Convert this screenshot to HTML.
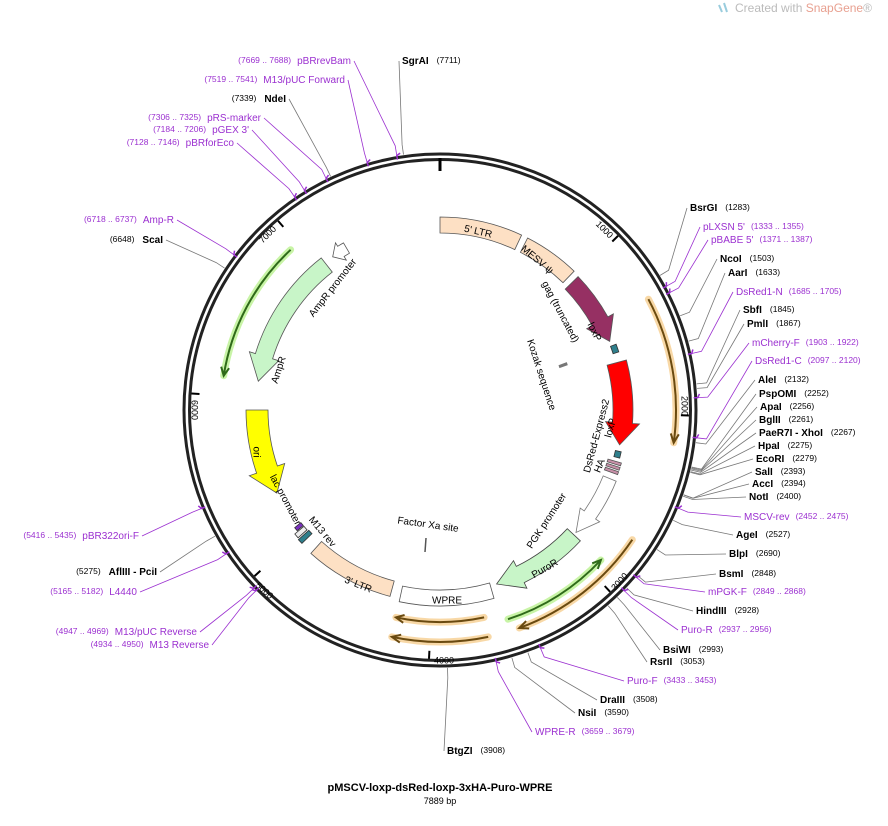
<!DOCTYPE html>
<html><head><meta charset="utf-8"><style>
body{margin:0;background:#fff;}
svg{display:block;font-family:"Liberation Sans","DejaVu Sans",sans-serif;}
</style></head><body>
<svg id="s" width="888" height="826" viewBox="0 0 888 826" xmlns="http://www.w3.org/2000/svg">
<text x="735" y="12" font-size="12" fill="#bbb">Created with <tspan fill="#e8a090">SnapGene</tspan>®</text>
<path d="M719 5 l3 7 M724 3 l3 9" stroke="#9cd" stroke-width="2"/>
<g id="g"></g>
<text x="440" y="791" font-size="11" font-weight="bold" text-anchor="middle">pMSCV-loxp-dsRed-loxp-3xHA-Puro-WPRE</text>
<text x="440" y="804" font-size="9" text-anchor="middle">7889 bp</text>
</svg>
<script>
const CX=440,CY=410,N=7889;
const g=document.getElementById('g');
let html='';
const rad=a=>a*Math.PI/180;
const P=(a,r)=>[CX+r*Math.sin(rad(a)),CY-r*Math.cos(rad(a))];
const f=v=>v.toFixed(1);
const bpA=b=>b/N*360;
function arc(a1,a2,r){const[x,y]=P(a2,r);const sw=a2>a1?1:0;const lg=Math.abs(a2-a1)>180?1:0;return `A${f(r)} ${f(r)} 0 ${lg} ${sw} ${f(x)} ${f(y)}`;}
function band(s,e,r,w,fill,stroke,head){
  const ro=r+w/2,ri=r-w/2;let d;
  const [x0,y0]=P(s,ro);
  if(!head){const[x1,y1]=P(e,ri);d=`M${f(x0)} ${f(y0)} ${arc(s,e,ro)} L${f(x1)} ${f(y1)} ${arc(e,s,ri)} Z`;}
  else{const sg=Math.sign(e-s);const hs=e-sg*head;const hw=w*0.35;
    const[a,b]=P(hs,ro+hw),[c,dd]=P(e,r),[p,q]=P(hs,ri-hw),[m,n]=P(hs,ri);
    d=`M${f(x0)} ${f(y0)} ${arc(s,hs,ro)} L${f(a)} ${f(b)} L${f(c)} ${f(dd)} L${f(p)} ${f(q)} L${f(m)} ${f(n)} ${arc(hs,s,ri)} Z`;}
  html+=`<path d="${d}" fill="${fill}" stroke="${stroke}" stroke-width="0.8"/>`;
}
function primer(s,e,r,col,glow){
  const[x0,y0]=P(s,r);const sg=Math.sign(e-s);
  const d=`M${f(x0)} ${f(y0)} ${arc(s,e,r)}`;
  html+=`<path d="${d}" fill="none" stroke="${glow}" stroke-width="7" stroke-linecap="round" opacity="0.7"/>`;
  html+=`<path d="${d}" fill="none" stroke="${col}" stroke-width="2"/>`;
  const[tx,ty]=P(e,r),[a,b]=P(e-sg*2.2,r+4),[c,dd]=P(e-sg*2.2,r-4);
  html+=`<path d="M${f(a)} ${f(b)} L${f(tx)} ${f(ty)} L${f(c)} ${f(dd)}" fill="none" stroke="${col}" stroke-width="2"/>`;
}
function T(x,y,t,rot,size,anchor,fill){html+=`<text x="${x}" y="${y}" font-size="${size||10}" text-anchor="${anchor||'middle'}" fill="${fill||'#000'}" transform="rotate(${rot||0} ${x} ${y})" dominant-baseline="middle">${t}</text>`;}
html+=`<circle cx="${CX}" cy="${CY}" r="256" fill="none" stroke="#222" stroke-width="3"/>`;
html+=`<circle cx="${CX}" cy="${CY}" r="250.5" fill="none" stroke="#222" stroke-width="3"/>`;
html+=`<line x1="440" y1="158" x2="440" y2="171" stroke="#000" stroke-width="3"/>`;
[1000,2000,3000,4000,5000,6000,7000].forEach(b=>{
  const a=bpA(b);const[x1,y1]=P(a,249),[x2,y2]=P(a,241);
  html+=`<line x1="${f(x1)}" y1="${f(y1)}" x2="${f(x2)}" y2="${f(y2)}" stroke="#000" stroke-width="2"/>`;
});
T(604,230,"1000",45,9);T(684,406,"2000",90,9);T(620,582,"3000",-48,9);T(444,661,"4000",0,9);T(264,591,"5000",42,9);T(194,410,"6000",90,9);T(268,235,"7000",-45,9);
band(0,25,185,16,"#fde0c4","#555",0);
band(27,44,185,16,"#fde0c4","#555",0);
band(46,68,183,18,"#963063","#555",7);
band(69.5,72,185,6,"#2f7f8c","#333",0);
band(75,101,183,20,"#ff0000","#555",7);
band(103,105,183,6,"#2f7f8c","#333",0);
for(let i=0;i<3;i++)band(106.3+i*1.4,107.2+i*1.4,182,14,"#c890a8","#555",0);
band(112,132,183,14,"#fff","#777",7);
band(133,162,183,18,"#c8f5c8","#444",8);
band(164,192,188,16,"#fff","#555",0);
band(195,222,185,16,"#fde0c4","#555",0);
band(226,227.5,185,14,"#2f7f8c","#333",0);
band(228,229.5,185,12,"#eee","#333",0);
band(229.8,231,183,8,"#7a30c0","#333",0);
band(270,243,183,22,"#ffff00","#555",8);
band(322,279,184,18,"#c8f5c8","#555",8);
band(330,325,187,12,"#fff","#555",3);
band(69.5,70.5,131,8,"#777","#777",0);
primer(317,279,219,"#2f6a1a","#b0f080");
primer(162,133,220,"#2f6a1a","#b0f080");
primer(62,98,236,"#6a4a10","#f5c880");
primer(124,160,232,"#6a4a10","#f5c880");
primer(168,192,212,"#6a4a10","#f5c880");
primer(168,192,232,"#6a4a10","#f5c880");
T(478,232,"5' LTR",13,10);T(537,260,"MESV ψ",40,10);T(560,312,"gag (truncated)",62,10);
T(594,332,"loxP",64,10);T(541,375,"Kozak sequence",72,10);T(597,436,"DsRed-Express2",-75,10);
T(611,428,"loxP",-75,10);T(600,466,"HA",-68,10);T(547,521,"PGK promoter",-57,10);
T(545,569,"PuroR",-30,10);T(447,601,"WPRE",0,10);T(358,585,"3' LTR",22,10);
T(428,525,"Factor Xa site",8,10);T(322,532,"M13 rev",50,10);T(285,500,"lac promoter",62,10);
T(256,452,"ori",90,10);T(279,370,"AmpR",-72,10);T(333,288,"AmpR promoter",-52,10);
html+=`<line x1="426" y1="538" x2="425" y2="552" stroke="#555" stroke-width="1.5"/>`;
const R=[["BsrGI","(1283)",1283,690,208,0],["pLXSN 5'","(1333 .. 1355)",1344,703,227,1],["pBABE 5'","(1371 .. 1387)",1379,711,240,1],
["NcoI","(1503)",1503,720,259,0],["AarI","(1633)",1633,728,273,0],["DsRed1-N","(1685 .. 1705)",1695,736,292,1],
["SbfI","(1845)",1845,743,310,0],["PmlI","(1867)",1867,747,324,0],["mCherry-F","(1903 .. 1922)",1912,752,343,1],
["DsRed1-C","(2097 .. 2120)",2108,755,361,1],["AleI","(2132)",2132,758,380,0],["PspOMI","(2252)",2252,759,394,0],
["ApaI","(2256)",2256,760,407,0],["BglII","(2261)",2261,759,420,0],["PaeR7I - XhoI","(2267)",2267,759,433,0],
["HpaI","(2275)",2275,758,446,0],["EcoRI","(2279)",2279,756,459,0],["SalI","(2393)",2393,755,472,0],
["AccI","(2394)",2394,752,484,0],["NotI","(2400)",2400,749,497,0],["MSCV-rev","(2452 .. 2475)",2463,744,517,1],
["AgeI","(2527)",2527,736,535,0],["BlpI","(2690)",2690,729,554,0],["BsmI","(2848)",2848,719,574,0],
["mPGK-F","(2849 .. 2868)",2858,708,592,1],["HindIII","(2928)",2928,696,611,0],["Puro-R","(2937 .. 2956)",2946,681,630,1],
["BsiWI","(2993)",2993,663,650,0],["RsrII","(3053)",3053,650,662,0],["Puro-F","(3433 .. 3453)",3443,627,681,1],
["DraIII","(3508)",3508,600,700,0],["NsiI","(3590)",3590,578,713,0],["WPRE-R","(3659 .. 3679)",3669,535,732,1],
["BtgZI","(3908)",3908,447,751,0],["SgrAI","(7711)",7711,402,61,0]];
const PU="#9b30d0";
R.forEach(([n,num,b,x,y,pr])=>{
  const a=bpA(b);const[x1,y1]=P(a,258),[x2,y2]=P(a,268);
  const col=pr?PU:"#777";
  html+=`<path d="M${f(x1)} ${f(y1)} L${f(x2)} ${f(y2)} L${x-3} ${y}" fill="none" stroke="${col}" stroke-width="0.8"/>`;
  if(pr){const[t1,t2]=P(a,254),[t3,t4]=P(a-0.8,260);html+=`<path d="M${f(t1)} ${f(t2)} L${f(x1)} ${f(y1)} L${f(t3)} ${f(t4)}" stroke="${PU}" stroke-width="1.5" fill="none"/>`;}
  html+=`<text x="${x}" y="${y}" dominant-baseline="middle" font-size="10" fill="${pr?PU:'#000'}"><tspan ${pr?'':'font-weight="bold"'}>${n}</tspan><tspan font-size="8.5" dx="${pr?6:8}">${num}</tspan></text>`;
});
const L=[["pBRrevBam","(7669 .. 7688)",7678,351,61,1],["M13/pUC Forward","(7519 .. 7541)",7530,345,80,1],["NdeI","(7339)",7339,286,99,0],
["pRS-marker","(7306 .. 7325)",7315,261,118,1],["pGEX 3'","(7184 .. 7206)",7195,249,130,1],["pBRforEco","(7128 .. 7146)",7137,234,143,1],
["Amp-R","(6718 .. 6737)",6727,174,220,1],["ScaI","(6648)",6648,163,240,0],["pBR322ori-F","(5416 .. 5435)",5425,139,536,1],
["AflIII - PciI","(5275)",5275,157,572,0],["L4440","(5165 .. 5182)",5173,137,592,1],["M13/pUC Reverse","(4947 .. 4969)",4958,197,632,1],
["M13 Reverse","(4934 .. 4950)",4942,209,645,1]];
L.forEach(([n,num,b,x,y,pr])=>{
  const a=bpA(b);const[x1,y1]=P(a,258),[x2,y2]=P(a,268);
  const col=pr?PU:"#777";
  html+=`<path d="M${f(x1)} ${f(y1)} L${f(x2)} ${f(y2)} L${x+3} ${y}" fill="none" stroke="${col}" stroke-width="0.8"/>`;
  if(pr){const[t1,t2]=P(a,254),[t3,t4]=P(a+0.8,260);html+=`<path d="M${f(t1)} ${f(t2)} L${f(x1)} ${f(y1)} L${f(t3)} ${f(t4)}" stroke="${PU}" stroke-width="1.5" fill="none"/>`;}
  html+=`<text x="${x}" y="${y}" text-anchor="end" dominant-baseline="middle" font-size="10" fill="${pr?PU:'#000'}"><tspan font-size="8.5">${num}</tspan><tspan dx="${pr?6:8}" ${pr?'':'font-weight="bold"'}>${n}</tspan></text>`;
});
g.innerHTML=html;
</script>
</body></html>
